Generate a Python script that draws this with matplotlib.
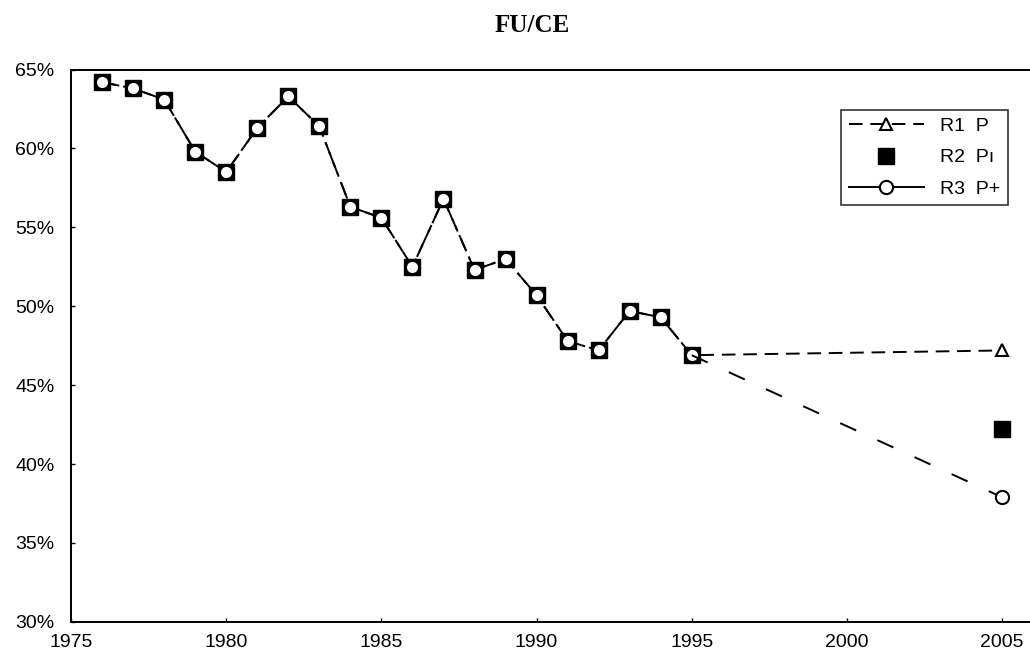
import matplotlib.pyplot as plt
from matplotlib.ticker import FuncFormatter

# historical share, 1976-1995 (%)
years_hist = list(range(1976, 1996))
share_hist = [64.2, 63.8, 63.1, 59.8, 58.5, 61.3, 63.3, 61.4, 56.3, 55.6,
              52.5, 56.8, 52.3, 53.0, 50.7, 47.8, 47.2, 49.7, 49.3, 46.9]

# projections for 2005
proj_year = 2005
r1_2005 = 47.2
r2_2005 = 42.2
r3_2005 = 37.9

labels = ['R1  P', 'R2  P\u0131', 'R3  P+']

plt.rcParams['font.family'] = ['Liberation Sans', 'DejaVu Sans']

fig = plt.figure(figsize=(10.3, 6.56), dpi=100)
ax = fig.add_axes([0.069, 0.052, 0.931, 0.842])

x_all = years_hist + [proj_year]

# R1: dashed line with triangles
ax.plot(x_all, share_hist + [r1_2005], linestyle=(0, (7, 4)), color='black', lw=1.4,
        marker='^', ms=8.5, mfc='white', mec='black', mew=1.5, label=labels[0], zorder=2)
# R2: black squares only
ax.plot(x_all, share_hist + [r2_2005], linestyle='none', color='black',
        marker='s', ms=12, mfc='black', mec='black', label=labels[1], zorder=3)
# R3: dash-dot line with open circles
ax.plot(years_hist, share_hist, linestyle=(0, (9, 3, 2, 3)), color='black', lw=1.4,
        marker='o', ms=7, mfc='white', mec='white', zorder=4)
ax.plot([years_hist[-1], proj_year], [share_hist[-1], r3_2005], linestyle=(0, (9, 12)),
        color='black', lw=1.4, zorder=4)
ax.plot([proj_year], [r3_2005], linestyle='none', marker='o', ms=9.5, mfc='white',
        mec='black', mew=1.5, zorder=5)
r3_handle, = ax.plot([], [], linestyle='-', color='black', lw=1.4, marker='o', ms=9.5,
                     mfc='white', mec='black', mew=1.5, label=labels[2])

ax.set_xlim(1975, 2005.9)
ax.set_ylim(30, 65)
ax.set_xticks([1975, 1980, 1985, 1990, 1995, 2000, 2005])
ax.set_yticks([30, 35, 40, 45, 50, 55, 60, 65])
ax.yaxis.set_major_formatter(FuncFormatter(lambda v, p: '%d%%' % v))
ax.tick_params(axis='both', direction='in', length=3, width=1, labelsize=14)
ax.tick_params(axis='x', pad=9)
ax.tick_params(axis='y', pad=12)
ax.spines['right'].set_visible(False)
for s in ['left', 'top', 'bottom']:
    ax.spines[s].set_linewidth(1.4)

fig.text(532 / 1030, 1 - 26 / 656, 'FU/CE', ha='center', va='center', fontsize=18,
         fontweight='bold', family='Liberation Serif')

leg = ax.legend(loc='upper right', bbox_to_anchor=(0.977, 0.927), fontsize=14,
                handlelength=3.9, frameon=True, fancybox=False, borderpad=0.4,
                labelspacing=0.7, handletextpad=0.8, borderaxespad=0)
leg.get_frame().set_edgecolor('black')
leg.get_frame().set_linewidth(1.2)

plt.savefig('out.png', dpi=100)
